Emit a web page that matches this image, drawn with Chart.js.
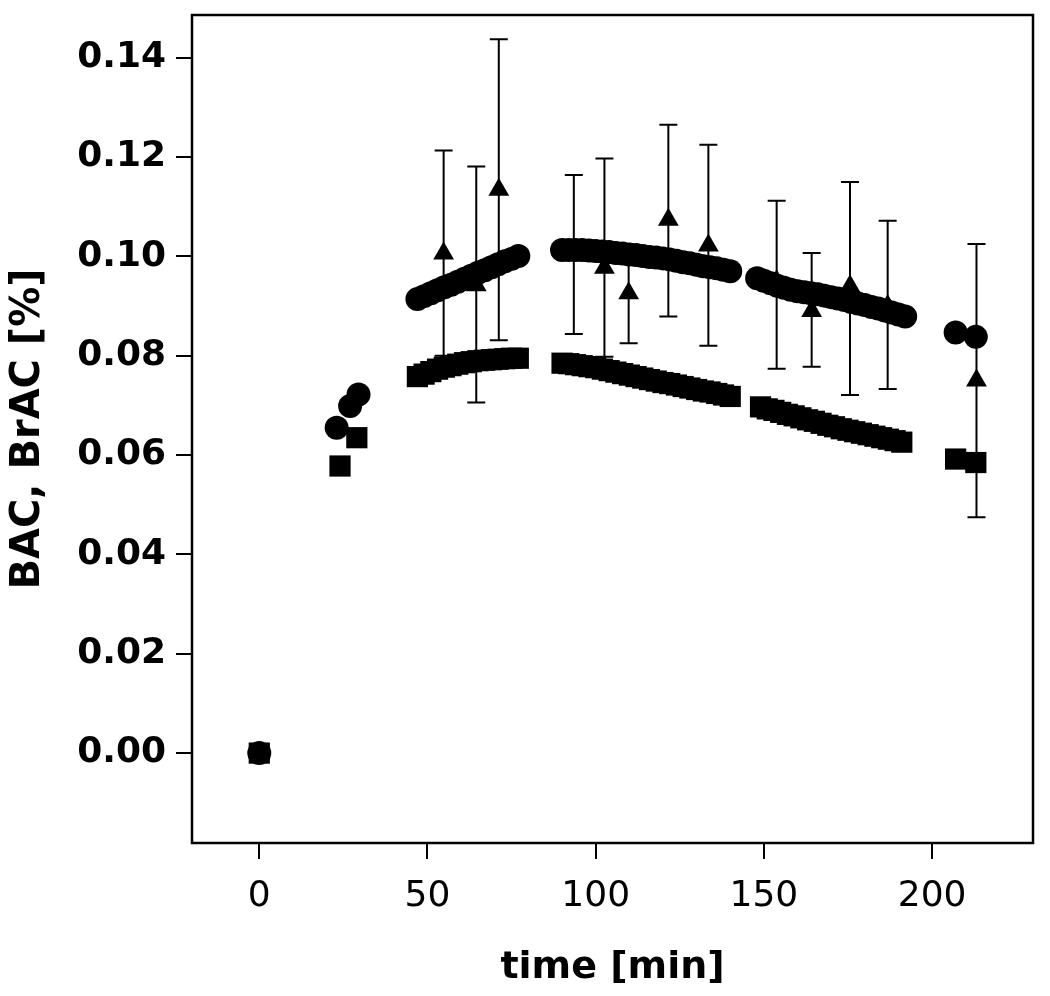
<!DOCTYPE html>
<html>
<head>
<meta charset="utf-8">
<script src="https://cdn.jsdelivr.net/npm/chart.js@4.4.1/dist/chart.umd.min.js"></script>
<style>
  body { margin: 0; background: #fff; }
  canvas { display: block; }
</style>
</head>
<body>
<canvas id="bacChart" width="1050" height="996"></canvas>
<script>
// BAC curve (circles)
const circleTime = [0, 23, 27, 29.5,
  47, 49, 51, 53, 55, 57, 59, 61, 63, 65, 67, 69, 71, 73, 75, 77,
  90, 92, 94, 96, 98, 100, 102, 104, 106, 108, 110, 112, 114, 116, 118, 120, 122, 124, 126, 128, 130, 132, 134, 136, 138, 140,
  148, 150, 152, 154, 156, 158, 160, 162, 164, 166, 168, 170, 172, 174, 176, 178, 180, 182, 184, 186, 188, 190, 192,
  207, 213];
const circleValue = [0.0000, 0.0655, 0.0699, 0.0722,
  0.0914, 0.0920, 0.0926, 0.0932, 0.0938, 0.0943, 0.0949, 0.0955, 0.0961, 0.0967, 0.0972, 0.0978, 0.0984, 0.0990, 0.0995, 0.1001,
  0.1013, 0.1013, 0.1013, 0.1013, 0.1012, 0.1011, 0.1010, 0.1009, 0.1007, 0.1006, 0.1004, 0.1003, 0.1001, 0.0999, 0.0998, 0.0996, 0.0994, 0.0991, 0.0988, 0.0986, 0.0983, 0.0980, 0.0978, 0.0976, 0.0973, 0.0970,
  0.0956, 0.0951, 0.0946, 0.0941, 0.0937, 0.0933, 0.0930, 0.0928, 0.0926, 0.0924, 0.0921, 0.0918, 0.0915, 0.0912, 0.0908, 0.0905, 0.0902, 0.0898, 0.0895, 0.0891, 0.0887, 0.0883, 0.0879,
  0.0847, 0.0838];

// BrAC curve (squares)
const squareTime = [0, 24, 29,
  47, 49, 51, 53, 55, 57, 59, 61, 63, 65, 67, 69, 71, 73, 75, 77,
  90, 92, 94, 96, 98, 100, 102, 104, 106, 108, 110, 112, 114, 116, 118, 120, 122, 124, 126, 128, 130, 132, 134, 136, 138, 140,
  149, 151, 153, 155, 157, 159, 161, 163, 165, 167, 169, 171, 173, 175, 177, 179, 181, 183, 185, 187, 189, 191,
  207, 213];
const squareValue = [0.0000, 0.0578, 0.0635,
  0.0758, 0.0763, 0.0768, 0.0773, 0.0777, 0.0780, 0.0783, 0.0786, 0.0788, 0.0790, 0.0791, 0.0792, 0.0793, 0.0794, 0.0795, 0.0795,
  0.0785, 0.0784, 0.0782, 0.0780, 0.0778, 0.0776, 0.0773, 0.0770, 0.0767, 0.0764, 0.0761, 0.0758, 0.0755, 0.0752, 0.0749, 0.0746, 0.0744, 0.0741, 0.0738, 0.0735, 0.0732, 0.0729, 0.0727, 0.0724, 0.0721, 0.0718,
  0.0697, 0.0693, 0.0690, 0.0686, 0.0682, 0.0679, 0.0675, 0.0671, 0.0668, 0.0664, 0.0660, 0.0657, 0.0653, 0.0650, 0.0647, 0.0644, 0.0641, 0.0638, 0.0635, 0.0632, 0.0629, 0.0626,
  0.0592, 0.0585];

// measured BAC (triangles) with error bars
const triTime = [54.8, 64.5, 71.2, 93.5, 102.6, 109.8, 121.6, 133.5, 153.8, 164.2, 175.6, 186.8, 213.2];
const triMean = [0.1006, 0.0942, 0.1134, 0.1010, 0.0977, 0.0926, 0.1074, 0.1022, 0.0950, 0.0890, 0.0940, 0.0900, 0.0750];
const triLow  = [0.0800, 0.0706, 0.0831, 0.0844, 0.0798, 0.0825, 0.0879, 0.0820, 0.0774, 0.0778, 0.0721, 0.0733, 0.0475];
const triHigh = [0.1213, 0.1181, 0.1437, 0.1164, 0.1197, 0.0990, 0.1265, 0.1225, 0.1112, 0.1007, 0.1150, 0.1072, 0.1025];

const xTicks = [0, 50, 100, 150, 200];
const yTicks = [0, 0.02, 0.04, 0.06, 0.08, 0.10, 0.12, 0.14];

Chart.defaults.font.family = 'DejaVu Sans';
Chart.defaults.color = '#000';

const errorBars = {
  id: 'errorBars',
  afterDatasetsDraw(chart) {
    const { ctx, scales: { x, y } } = chart;
    ctx.save();
    ctx.strokeStyle = '#000';
    ctx.lineWidth = 2;
    triTime.forEach((t, i) => {
      const px = x.getPixelForValue(t);
      const lo = y.getPixelForValue(triLow[i]);
      const hi = y.getPixelForValue(triHigh[i]);
      ctx.beginPath();
      ctx.moveTo(px, lo); ctx.lineTo(px, hi);
      ctx.moveTo(px - 9, lo); ctx.lineTo(px + 9, lo);
      ctx.moveTo(px - 9, hi); ctx.lineTo(px + 9, hi);
      ctx.stroke();
    });
    ctx.restore();
  }
};

const frame = {
  id: 'frame',
  afterDraw(chart) {
    const { ctx, chartArea: a } = chart;
    ctx.save();
    ctx.strokeStyle = '#000';
    ctx.lineWidth = 2.5;
    ctx.strokeRect(a.left, a.top, a.right - a.left, a.bottom - a.top);
    ctx.restore();
  }
};

const ctx = document.getElementById('bacChart').getContext('2d');
const bacChart = new Chart(ctx, {
  type: 'scatter',
  data: {
    datasets: [{
      label: 'BAC',
      data: circleTime.map((t, i) => ({ x: t, y: circleValue[i] })),
      pointStyle: 'circle',
      pointRadius: 12,
      backgroundColor: '#000',
      borderWidth: 0
    }, {
      label: 'BrAC',
      data: squareTime.map((t, i) => ({ x: t, y: squareValue[i] })),
      pointStyle: 'rect',
      pointRadius: 15,
      backgroundColor: '#000',
      borderWidth: 0
    }, {
      label: 'BAC measured',
      data: triTime.map((t, i) => ({ x: t, y: triMean[i] })),
      pointStyle: 'triangle',
      pointRadius: 12,
      backgroundColor: '#000',
      borderWidth: 0
    }]
  },
  options: {
    responsive: false,
    animation: false,
    layout: { padding: { top: 15, right: 17, left: 0, bottom: 0 } },
    plugins: { legend: { display: false }, tooltip: { enabled: false } },
    scales: {
      x: {
        type: 'linear',
        min: -20,
        max: 230,
        afterBuildTicks: s => { s.ticks = xTicks.map(v => ({ value: v })); },
        afterFit: s => { s.height = 153; s.paddingLeft = 0; s.paddingRight = 0; },
        ticks: { font: { size: 36 }, padding: 16, color: '#000' },
        grid: { drawOnChartArea: false, tickLength: 16, color: '#000', lineWidth: 2 },
        border: { display: false },
        title: { display: true, text: 'time [min]', font: { size: 38, weight: 'bold' }, padding: { top: 0, bottom: 5 } }
      },
      y: {
        min: -0.0181,
        max: 0.1486,
        afterBuildTicks: s => { s.ticks = yTicks.map(v => ({ value: v })); },
        afterFit: s => { s.width = 192; s.paddingTop = 0; s.paddingBottom = 0; },
        ticks: { font: { size: 36, weight: 'bold' }, padding: 10, color: '#000', callback: v => v.toFixed(2) },
        grid: { drawOnChartArea: false, tickLength: 16, color: '#000', lineWidth: 2 },
        border: { display: false },
        title: { display: true, text: 'BAC, BrAC [%]', font: { size: 40, weight: 'bold' }, padding: { top: 5, bottom: 0 } }
      }
    }
  },
  plugins: [errorBars, frame]
});
</script>
</body>
</html>
